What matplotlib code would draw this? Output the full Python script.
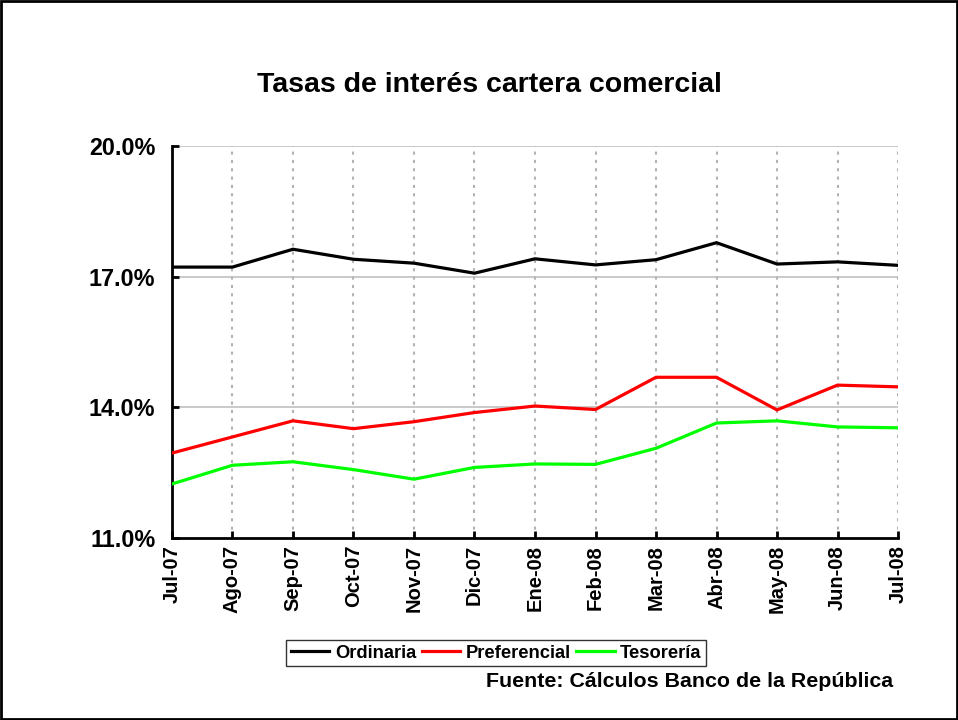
#! /usr/bin/env python

import matplotlib
matplotlib.use('Agg')
import matplotlib.pyplot as plt
import matplotlib as mpl
from matplotlib.patches import Rectangle
from matplotlib.ticker import FormatStrFormatter

meses = ['Jul-07', 'Ago-07', 'Sep-07', 'Oct-07', 'Nov-07', 'Dic-07', 'Ene-08',
         'Feb-08', 'Mar-08', 'Abr-08', 'May-08', 'Jun-08', 'Jul-08']

ordinaria = [17.22, 17.22, 17.63, 17.40, 17.31, 17.08, 17.41,
             17.27, 17.39, 17.78, 17.29, 17.34, 17.26]
preferencial = [12.95, 13.32, 13.69, 13.51, 13.67, 13.88, 14.03,
                13.95, 14.69, 14.69, 13.94, 14.51, 14.47]
tesoreria = [12.24, 12.67, 12.75, 12.57, 12.35, 12.62, 12.70,
             12.69, 13.06, 13.64, 13.69, 13.55, 13.53]

series = ['Ordinaria', 'Preferencial', 'Tesorería']
styles = {
'Ordinaria'    :{'label': 'Ordinaria',    'color':'#000000'},
'Preferencial' :{'label': 'Preferencial', 'color':'#ff0000'},
'Tesorería'    :{'label': 'Tesorería',    'color':'#00ff00'},
}

def init():
    font = {'family' : ['Liberation Sans', 'DejaVu Sans'],
            'weight': 'bold',
            'size': 14}
    lines = {'linewidth':2.3, 'solid_joinstyle':'miter'}
    axes = {'linewidth': 2}
    tick = {'major.size': 5,
            'major.width':2,
            'direction':'in'}

    mpl.rc('font',**font)
    mpl.rc('lines',**lines)
    mpl.rc('axes',**axes)
    mpl.rc('xtick',**tick)
    mpl.rc('ytick',**tick)

    fig = plt.figure(figsize=(9.58, 7.2), dpi=100)
    ax1 = fig.add_axes([0.1795, 0.2528, 0.7579, 0.5444])
    return fig,ax1

def plot():
    fig,ax = init()
    data = {'Ordinaria': ordinaria, 'Preferencial': preferencial,
            'Tesorería': tesoreria}
    x = list(range(len(meses)))

    for s in series:
        ax.plot(x, data[s], zorder=3, **styles[s])

    ax.set_xlim((0, len(meses) - 1))
    ax.set_ylim((11, 20))
    ax.set_yticks([11, 14, 17, 20])
    ax.yaxis.set_major_formatter(FormatStrFormatter('%.1f%%'))
    ax.set_xticks(x)
    ax.set_xticklabels(meses, rotation=90, fontsize=14.5)
    ax.tick_params(axis='y', pad=12, labelsize=16.8)
    ax.tick_params(axis='x', pad=5)

    # solid horizontal grid, dotted vertical grid
    for v in [14, 17, 20]:
        ax.axhline(v, color='#c0c0c0', linewidth=1.2, zorder=1)
    for i in x[1:]:
        ax.axvline(i, color='#b4b4b4', linewidth=1.5, linestyle=(0, (1.5, 2.5)), zorder=1)

    ax.spines['top'].set_visible(False)
    ax.spines['right'].set_visible(False)

    fig.text(0.511, 0.882, 'Tasas de interés cartera comercial',
             ha='center', va='center', fontsize=20.5, fontweight='bold')

    leg = fig.legend(loc='center', bbox_to_anchor=(0.518, 0.093), ncol=3,
                     fontsize=13.2, frameon=True, fancybox=False, edgecolor='black',
                     handlelength=2.1, handletextpad=0.3, columnspacing=0.3,
                     borderpad=0.25, borderaxespad=0)
    leg.get_frame().set_linewidth(1.0)

    fig.text(0.932, 0.053, 'Fuente: Cálculos Banco de la República',
             ha='right', va='center', fontsize=15.4, fontweight='bold')

    fig.patches.append(Rectangle((0.001, 0.001), 0.998, 0.998, transform=fig.transFigure,
                                 fill=False, edgecolor='black', linewidth=2))

    plt.savefig('out.png', dpi=100)

if __name__ == '__main__':
    plot()
